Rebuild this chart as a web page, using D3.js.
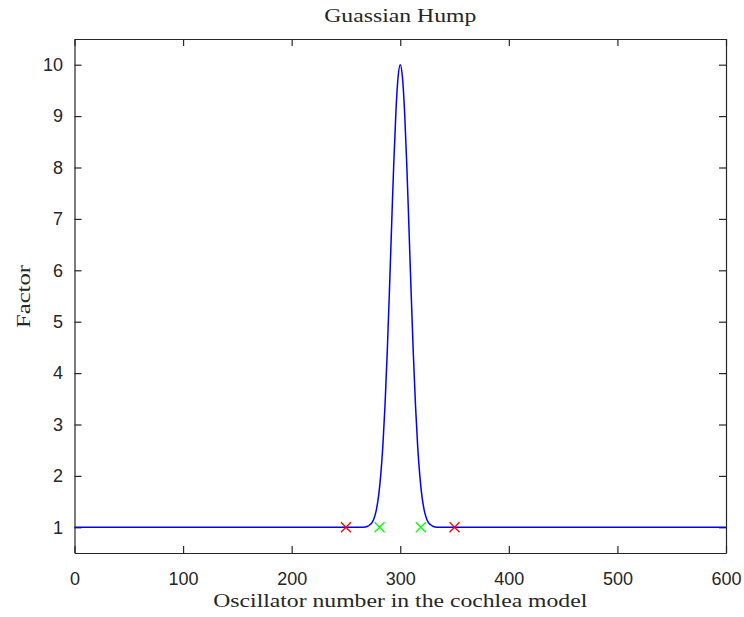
<!DOCTYPE html>
<html>
<head>
<meta charset="utf-8">
<script src="https://cdn.jsdelivr.net/npm/d3@7"></script>
<style>
  html, body { margin: 0; padding: 0; background: #fff; }
  svg { display: block; }
  .tick text { font-family: "Liberation Sans", Arial, sans-serif; font-size: 18px; fill: #262626; }
  .serif { font-family: "Liberation Serif", "Times New Roman", serif; fill: #262626; }
</style>
</head>
<body>
<svg id="chart" width="744" height="617"></svg>
<script>
// Gain factor along the oscillator chain of the cochlea model
const oscillator = [0, 260, 266, 270, 272, 274, 276, 278, 280, 282, 284, 286, 288, 290, 292, 294, 296, 298,
                    300, 302, 304, 306, 308, 310, 312, 314, 316, 318, 320, 322, 324, 326, 328, 330, 334, 340, 600];
const factor =     [1, 1, 1.00, 1.02, 1.05, 1.09, 1.18, 1.34, 1.60, 2.01, 2.59, 3.39, 4.40, 5.58, 6.84, 8.06, 9.08, 9.76,
                    10.0, 9.76, 9.08, 8.06, 6.84, 5.58, 4.40, 3.39, 2.59, 2.01, 1.60, 1.34, 1.18, 1.09, 1.05, 1.02, 1.00, 1, 1];

// Outer bounds of the hump (red) and inner bounds (green)
const outerX = [250, 350];
const outerY = [1, 1];
const innerX = [281, 319];
const innerY = [1, 1];

const xTicks = [0, 100, 200, 300, 400, 500, 600];
const yTicks = [1, 2, 3, 4, 5, 6, 7, 8, 9, 10];

const svg = d3.select("#chart");
const plotLeft = 74.5, plotRight = 726, plotTop = 39, plotBottom = 553;

const x = d3.scaleLinear().domain([0, 600]).range([plotLeft, plotRight]);
const y = d3.scaleLinear().domain([0.5, 10.5]).range([plotBottom, plotTop]);

const axisColor = "#262626";
const tickLen = 7;

function styleAxis(g) {
  g.selectAll(".domain").attr("stroke", axisColor).attr("stroke-width", 1.2);
  g.selectAll(".tick line").attr("stroke", axisColor).attr("stroke-width", 1.2);
}

// bottom axis with labels
svg.append("g")
  .attr("transform", `translate(0,${plotBottom})`)
  .call(d3.axisBottom(x).tickValues(xTicks).tickSize(-tickLen).tickSizeOuter(0).tickPadding(19.5))
  .call(styleAxis)
  .call(g => g.selectAll(".tick text").attr("fill", axisColor));

// top axis (ticks only)
svg.append("g")
  .attr("transform", `translate(0,${plotTop})`)
  .call(d3.axisTop(x).tickValues(xTicks).tickSize(-tickLen).tickSizeOuter(0).tickFormat(""))
  .call(styleAxis);

// left axis with labels
svg.append("g")
  .attr("transform", `translate(${plotLeft},0)`)
  .call(d3.axisLeft(y).tickValues(yTicks).tickSize(-tickLen).tickSizeOuter(0).tickPadding(11.5))
  .call(styleAxis)
  .call(g => g.selectAll(".tick text").attr("fill", axisColor));

// right axis (ticks only)
svg.append("g")
  .attr("transform", `translate(${plotRight},0)`)
  .call(d3.axisRight(y).tickValues(yTicks).tickSize(-tickLen).tickSizeOuter(0).tickFormat(""))
  .call(styleAxis);

// hump curve
const pts = oscillator.map((o, i) => [o, factor[i]]);
svg.append("path")
  .datum(pts)
  .attr("fill", "none")
  .attr("stroke", "#0000ff")
  .attr("stroke-width", 1.5)
  .attr("d", d3.line().x(d => x(d[0])).y(d => y(d[1])).curve(d3.curveMonotoneX));

// cross markers
function crosses(xs, ys, color) {
  const s = 5;
  svg.append("g").selectAll("path")
    .data(xs.map((v, i) => [v, ys[i]]))
    .join("path")
    .attr("fill", "none")
    .attr("stroke", color)
    .attr("stroke-width", 1.3)
    .attr("d", d => {
      const cx = x(d[0]), cy = y(d[1]);
      return `M${cx - s},${cy - s}L${cx + s},${cy + s}M${cx - s},${cy + s}L${cx + s},${cy - s}`;
    });
}
crosses(outerX, outerY, "#ff0000");
crosses(innerX, innerY, "#00ff00");

// title and axis labels
svg.append("text").attr("class", "serif")
  .attr("x", (plotLeft + plotRight) / 2).attr("y", 22)
  .attr("text-anchor", "middle").attr("font-size", 19)
  .attr("textLength", 152).attr("lengthAdjust", "spacingAndGlyphs")
  .text("Guassian Hump");

svg.append("text").attr("class", "serif")
  .attr("x", (plotLeft + plotRight) / 2).attr("y", 606.5)
  .attr("text-anchor", "middle").attr("font-size", 19)
  .attr("textLength", 374).attr("lengthAdjust", "spacingAndGlyphs")
  .text("Oscillator number in the cochlea model");

svg.append("text").attr("class", "serif")
  .attr("transform", `translate(29.5,296.5) rotate(-90)`)
  .attr("text-anchor", "middle").attr("font-size", 19)
  .attr("textLength", 63).attr("lengthAdjust", "spacingAndGlyphs")
  .text("Factor");
</script>
</body>
</html>
